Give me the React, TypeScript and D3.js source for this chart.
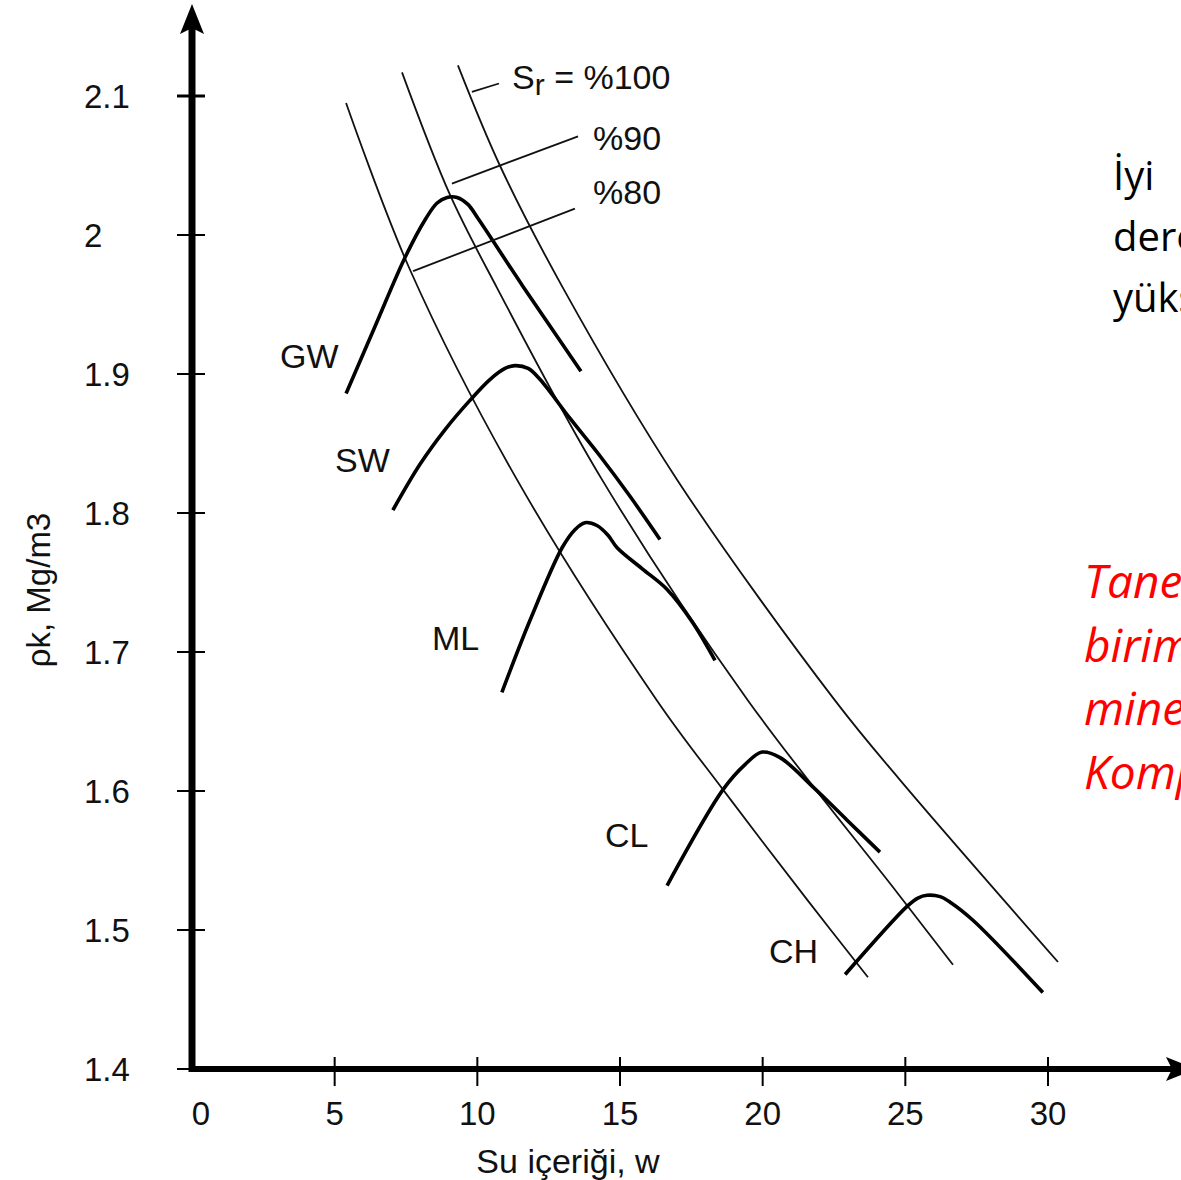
import React, { useEffect, useRef } from 'react';
import * as d3 from 'd3';

// axis ticks
const xTicks = [0, 5, 10, 15, 20, 25, 30];
const yTicks = [1.4, 1.5, 1.6, 1.7, 1.8, 1.9, 2.0, 2.1];
const yTickLabels = ['1.4', '1.5', '1.6', '1.7', '1.8', '1.9', '2', '2.1'];

// saturation lines (w %, rho Mg/m3)
const sr80W = [5.40, 7.64, 11.39, 16.30, 18.61, 21.55, 23.69];
const sr80Rho = [2.095, 1.975, 1.824, 1.665, 1.601, 1.522, 1.466];
const sr90W = [7.36, 9.04, 10.69, 14.37, 19.49, 24.71, 26.67];
const sr90Rho = [2.117, 2.029, 1.962, 1.824, 1.665, 1.527, 1.475];
const sr100W = [9.32, 10.79, 13.00, 17.00, 22.54, 24.81, 30.35];
const sr100Rho = [2.122, 2.050, 1.962, 1.824, 1.665, 1.608, 1.477];

// compaction curves
const gwW = [5.40, 6.41, 7.47, 8.17, 8.59, 8.94, 9.29, 9.67, 10.02, 11.60, 13.63];
const gwRho = [1.886, 1.934, 1.984, 2.011, 2.023, 2.027, 2.027, 2.022, 2.012, 1.963, 1.902];
const swW = [7.04, 7.99, 8.87, 9.74, 10.44, 10.97, 11.32, 11.78, 12.20, 13.25, 14.30, 15.35, 16.40];
const swRho = [1.802, 1.835, 1.860, 1.881, 1.896, 1.904, 1.906, 1.904, 1.896, 1.868, 1.841, 1.812, 1.781];
const mlW = [10.86, 11.85, 12.97, 13.42, 13.77, 14.19, 14.58, 14.90, 15.77, 16.65, 17.52, 18.33];
const mlRho = [1.671, 1.723, 1.775, 1.788, 1.793, 1.791, 1.784, 1.775, 1.760, 1.745, 1.722, 1.694];
const clW = [16.65, 18.61, 19.38, 19.98, 20.61, 21.76, 22.96, 24.11];
const clRho = [1.532, 1.601, 1.619, 1.628, 1.624, 1.603, 1.579, 1.556];
const chW = [22.89, 25.06, 25.44, 25.76, 26.22, 26.57, 27.37, 29.82];
const chRho = [1.468, 1.517, 1.523, 1.525, 1.524, 1.520, 1.507, 1.455];

// leader lines for the Sr labels: [w1, rho1, w2, rho2]
const leader100 = [9.81, 2.103, 10.76, 2.109];
const leader90 = [9.11, 2.037, 13.53, 2.071];
const leader80 = [7.75, 1.974, 13.42, 2.019];

const blackLines = ['İyi', 'derecelenmiş', 'yüksek'];
const redLines = ['Tanelerin', 'birim', 'mineralojisi', 'Kompaksiyon'];

const FONT = "'Liberation Sans', Arial, sans-serif";
const NOTE_FONT = "'Open Sans', Lato, sans-serif";

const App = () => {
  const ref = useRef<SVGSVGElement>(null);

  useEffect(() => {
    if (!ref.current) return;
    const svg = d3.select(ref.current);
    svg.selectAll('*').remove();

    const x = d3.scaleLinear().domain([0, 30]).range([192, 1048]);
    const y = d3.scaleLinear().domain([1.4, 2.1]).range([1069, 96]);

    const line = d3.line<[number, number]>()
      .x(d => x(d[0]))
      .y(d => y(d[1]))
      .curve(d3.curveCatmullRom.alpha(0.5));

    const zip = (a: number[], b: number[]) => a.map((v, i) => [v, b[i]] as [number, number]);

    // saturation lines
    [[sr80W, sr80Rho], [sr90W, sr90Rho], [sr100W, sr100Rho]].forEach(([w, r]) => {
      svg.append('path')
        .attr('d', line(zip(w, r)))
        .attr('fill', 'none')
        .attr('stroke', '#111')
        .attr('stroke-width', 1.8);
    });

    // compaction curves
    [[gwW, gwRho], [swW, swRho], [mlW, mlRho], [clW, clRho], [chW, chRho]].forEach(([w, r]) => {
      svg.append('path')
        .attr('d', line(zip(w, r)))
        .attr('fill', 'none')
        .attr('stroke', '#000')
        .attr('stroke-width', 3.6)
        .attr('stroke-linejoin', 'round');
    });

    // leaders
    [leader100, leader90, leader80].forEach(l => {
      svg.append('line')
        .attr('x1', x(l[0])).attr('y1', y(l[1]))
        .attr('x2', x(l[2])).attr('y2', y(l[3]))
        .attr('stroke', '#111').attr('stroke-width', 1.8);
    });

    // axes
    svg.append('line')
      .attr('x1', 192).attr('y1', 1072).attr('x2', 192).attr('y2', 28)
      .attr('stroke', '#000').attr('stroke-width', 7);
    svg.append('path')
      .attr('d', 'M192,4 L180,34 L192,28 L204,34 Z')
      .attr('fill', '#000');
    svg.append('line')
      .attr('x1', 189).attr('y1', 1069).attr('x2', 1172).attr('y2', 1069)
      .attr('stroke', '#000').attr('stroke-width', 6);
    svg.append('path')
      .attr('d', 'M1196,1069 L1166,1057 L1172,1069 L1166,1081 Z')
      .attr('fill', '#000');

    yTicks.forEach((t, i) => {
      svg.append('line')
        .attr('x1', 177).attr('x2', 205)
        .attr('y1', y(t)).attr('y2', y(t))
        .attr('stroke', '#000').attr('stroke-width', t === 2.1 ? 3 : 2);
      svg.append('text')
        .attr('x', 84).attr('y', y(t)).attr('dy', '0.36em')
        .attr('font-family', FONT).attr('font-size', 33)
        .attr('fill', '#111')
        .text(yTickLabels[i]);
    });

    xTicks.forEach(t => {
      if (t > 0) {
        svg.append('line')
          .attr('x1', x(t)).attr('x2', x(t))
          .attr('y1', 1057).attr('y2', 1086)
          .attr('stroke', '#000').attr('stroke-width', 2);
      }
      svg.append('text')
        .attr('x', x(t) + (t === 0 ? 9 : 0)).attr('y', 1125)
        .attr('text-anchor', 'middle')
        .attr('font-family', FONT).attr('font-size', 33)
        .attr('fill', '#111')
        .text(String(t));
    });

    svg.append('text')
      .attr('x', 568).attr('y', 1173)
      .attr('text-anchor', 'middle')
      .attr('font-family', FONT).attr('font-size', 34)
      .attr('fill', '#111')
      .text('Su içeriği, w');

    svg.append('text')
      .attr('transform', 'translate(50,590) rotate(-90)')
      .attr('text-anchor', 'middle')
      .attr('font-family', FONT).attr('font-size', 33)
      .attr('fill', '#111')
      .text('ρk, Mg/m3');

    // curve labels
    const labels: [string, number, number][] = [
      ['GW', 280, 368], ['SW', 335, 472], ['ML', 432, 650], ['CL', 605, 847], ['CH', 769, 963],
      ['%90', 593, 150], ['%80', 593, 204],
    ];
    labels.forEach(([s, px, py]) => {
      svg.append('text')
        .attr('x', px).attr('y', py)
        .attr('font-family', FONT).attr('font-size', 34)
        .attr('fill', '#111')
        .text(s);
    });
    const sr = svg.append('text')
      .attr('x', 512).attr('y', 89)
      .attr('font-family', FONT).attr('font-size', 34)
      .attr('fill', '#111');
    sr.append('tspan').text('S');
    sr.append('tspan').attr('dy', 6).attr('font-size', 30).text('r');
    sr.append('tspan').attr('dy', -6).text(' = %100');

    // side notes (cut at the right edge, as in the slide)
    blackLines.forEach((s, i) => {
      svg.append('text')
        .attr('x', 1113).attr('y', 190 + i * 61)
        .attr('font-family', NOTE_FONT).attr('font-size', 40)
        .attr('fill', '#000')
        .text(s);
    });
    redLines.forEach((s, i) => {
      svg.append('text')
        .attr('x', 1084).attr('y', 598 + i * 63.5)
        .attr('font-family', NOTE_FONT).attr('font-size', 46)
        .attr('font-style', 'italic')
        .attr('fill', '#ff0000')
        .text(s);
    });
  }, []);

  return (
    <div style={{ position: 'absolute', left: 0, top: 0 }}>
      <svg ref={ref} width={1181} height={1180} style={{ display: 'block', background: '#fff', overflow: 'hidden' }} />
    </div>
  );
};

export default App;
